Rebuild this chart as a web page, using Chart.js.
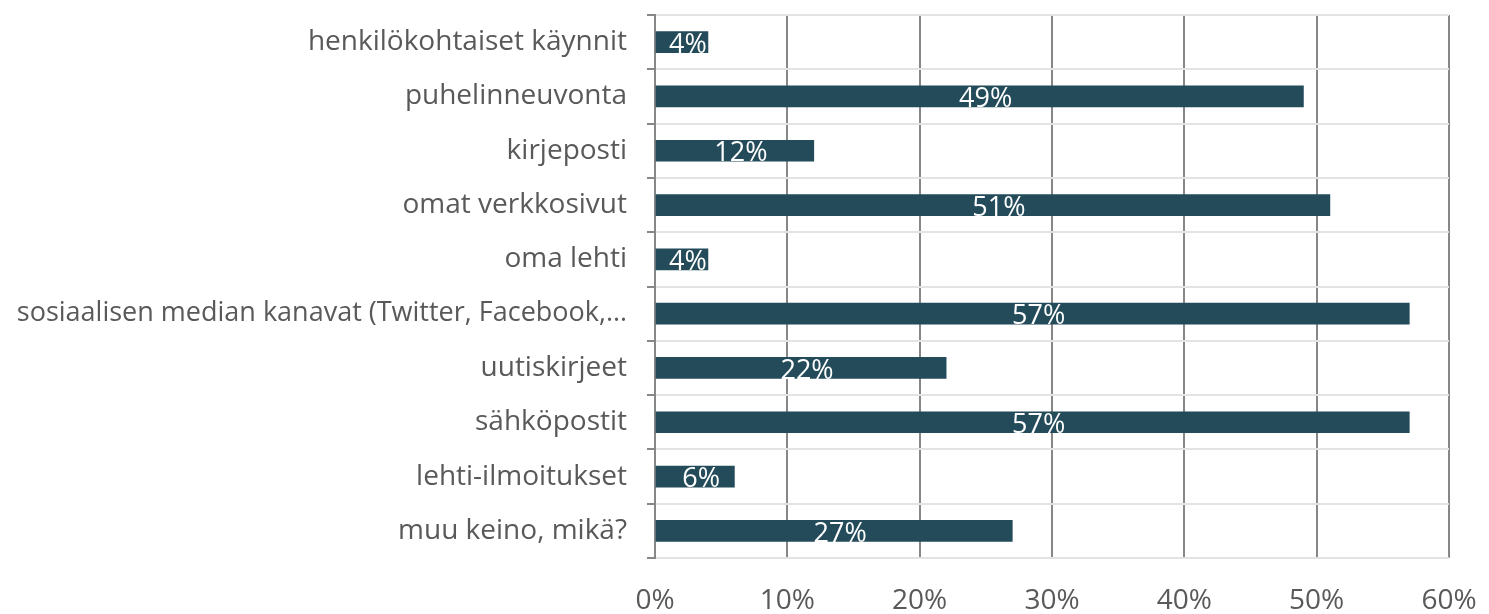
<!DOCTYPE html>
<html>
<head>
<meta charset="utf-8">
<script src="https://cdn.jsdelivr.net/npm/chart.js@4/dist/chart.umd.min.js"></script>
<style>
  html, body { margin: 0; padding: 0; background: #fff; }
  #wrap { width: 1489px; height: 614px; }
</style>
</head>
<body>
<div id="wrap"><canvas id="chart" width="1489" height="614"></canvas></div>
<script>
// Data
const categories = [
    "henkilökohtaiset käynnit",
    "puhelinneuvonta",
    "kirjeposti",
    "omat verkkosivut",
    "oma lehti",
    "sosiaalisen median kanavat (Twitter, Facebook,…",
    "uutiskirjeet",
    "sähköpostit",
    "lehti-ilmoitukset",
    "muu keino, mikä?"
];
const values = [4, 49, 12, 51, 4, 57, 22, 57, 6, 27];
const xTicks = [0, 10, 20, 30, 40, 50, 60];

const fontFamily = "'Open Sans', 'Noto Sans', sans-serif";
const textGray = "#595959";

// draw value labels inside bars
const valueLabels = {
    id: "valueLabels",
    afterDatasetsDraw(chart) {
        const ctx = chart.ctx;
        const meta = chart.getDatasetMeta(0);
        ctx.save();
        ctx.fillStyle = "#ffffff";
        ctx.font = "27px " + fontFamily;
        ctx.textAlign = "center";
        ctx.textBaseline = "middle";
        meta.data.forEach((bar, i) => {
            const cx = (bar.x + bar.base) / 2 + 6;
            ctx.fillText(values[i] + "%", cx, bar.y + 3);
        });
        ctx.restore();
    }
};

const chart = new Chart(document.getElementById("chart"), {
    type: "bar",
    data: {
        labels: categories,
        datasets: [{
            data: values,
            backgroundColor: "#234B5A",
            barThickness: 21
        }]
    },
    options: {
        indexAxis: "y",
        responsive: false,
        animation: false,
        layout: { padding: { top: 15, right: 40, left: 0, bottom: 0 } },
        plugins: {
            legend: { display: false },
            tooltip: { enabled: false }
        },
        scales: {
            x: {
                min: 0,
                max: 60,
                afterBuildTicks: axis => { axis.ticks = xTicks.map(v => ({ value: v })); },
                afterFit: axis => {
                    axis.height = 56;
                    axis.paddingLeft = 0;
                    axis.paddingRight = 0;
                },
                grid: { color: "#878787", lineWidth: 2, drawTicks: false },
                border: { display: false },
                ticks: {
                    padding: 26,
                    color: textGray,
                    font: { family: fontFamily, size: 28 },
                    callback: v => v + "%"
                }
            },
            y: {
                afterFit: axis => {
                    axis.width = 655;
                    axis.paddingTop = 0;
                    axis.paddingBottom = 0;
                },
                grid: {
                    color: "#e3e3e3",
                    lineWidth: 2,
                    tickColor: "#878787",
                    tickLength: 8,
                    offset: true
                },
                border: { display: true, color: "#878787", width: 2 },
                ticks: {
                    padding: 20,
                    color: textGray,
                    // the long label is a bit smaller so it fits on the left
                    font: ctx => ({ family: fontFamily, size: ctx.index === 5 ? 27 : 28 })
                }
            }
        }
    },
    plugins: [valueLabels]
});
</script>
</body>
</html>
